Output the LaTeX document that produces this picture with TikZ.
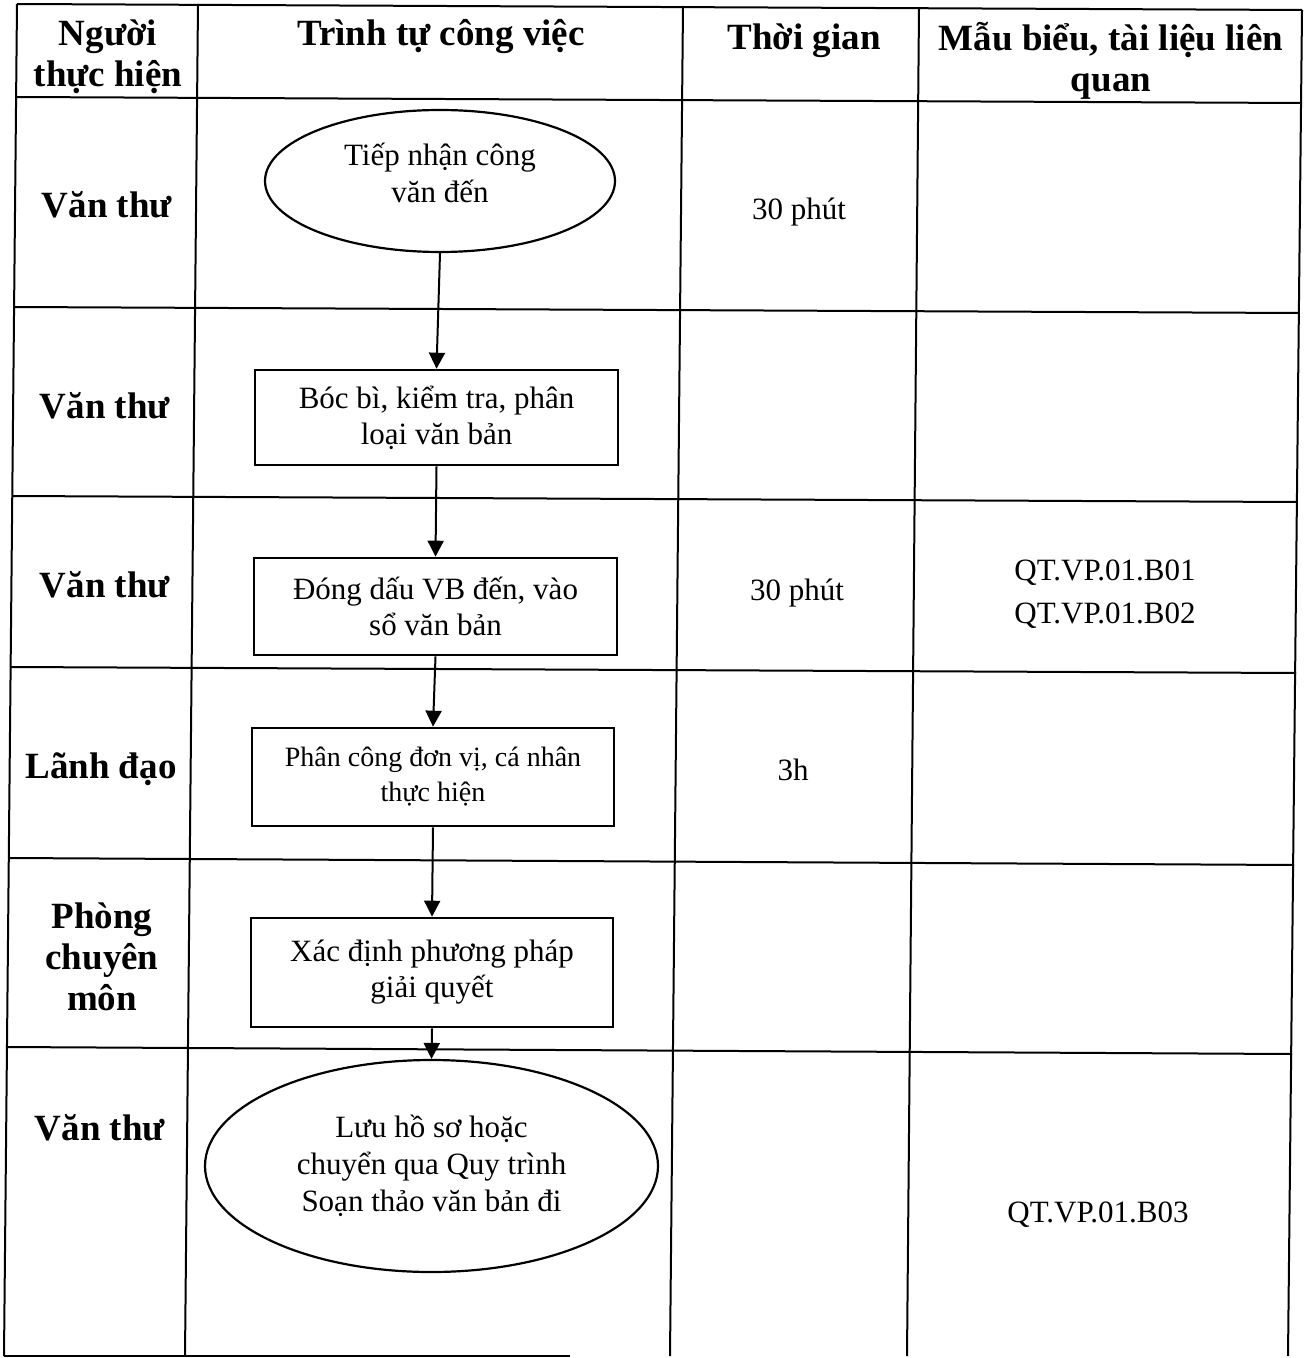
\documentclass[tikz,border=0pt]{standalone}
\usepackage{fontspec}
\setmainfont{Liberation Serif}
\usetikzlibrary{shapes.geometric,arrows.meta}
\begin{document}
\begin{tikzpicture}[x=0.5pt,y=-0.5pt]
\tikzset{
  tableline/.style={line width=1pt},
  lab/.style={font=\fontsize{18.5}{20.5}\selectfont\bfseries, align=center, inner sep=0pt, anchor=base},
  txt/.style={font=\fontsize{15.5}{21.5}\selectfont, align=center, inner sep=0pt, anchor=base},
  stepbox/.style={draw, rectangle, line width=1.3pt, inner sep=0pt, align=center, font=\fontsize{15.5}{18}\selectfont},
  termbox/.style={draw, ellipse, line width=1.1pt, inner sep=0pt, align=center, font=\fontsize{15.5}{18.5}\selectfont},
  flow/.style={line width=1pt, -{Triangle[length=8pt,width=8pt]}}
}
\useasboundingbox (0,0) rectangle (1308,1358);
\fill[white] (0,0) rectangle (1308,1358);
% table grid
\draw[tableline] (17,4) -- (4,1356);
\draw[tableline] (198,4) -- (185,1356);
\draw[tableline] (683,6) -- (670,1356);
\draw[tableline] (919,8) -- (907,1356);
\draw[tableline] (1302,10) -- (1288,1356);
\draw[tableline] (17,4) -- (1302,10);
\draw[tableline] (16,97) -- (1301,103);
\draw[tableline] (14,307) -- (1299,313);
\draw[tableline] (12,496) -- (1297,502);
\draw[tableline] (11,667) -- (1296,673);
\draw[tableline] (9,858) -- (1294,865);
\draw[tableline] (7,1047) -- (1292,1054);
\draw[tableline] (4,1356) -- (570,1356);
% header (multi-line nodes are placed at the baseline of their last line)
\node[lab] (h1) at (108,87) {Người\\thực hiện};
\node[lab] (h2) at (441,46) {Trình tự công việc};
\node[lab] (h3) at (804,50) {Thời gian};
\node[lab] (h4) at (1111,92) {Mẫu biểu, tài liệu liên\\quan};
% row labels
\node[lab] (r1) at (107,218) {Văn thư};
\node[lab] (r2) at (105,418) {Văn thư};
\node[lab] (r3) at (105,597) {Văn thư};
\node[lab] (r4) at (101,778) {Lãnh đạo};
\node[lab] (r5) at (102,1010) {Phòng\\chuyên\\môn};
\node[lab] (r6) at (100,1140) {Văn thư};
% time column
\node[txt] (t1) at (799,220) {30 phút};
\node[txt] (t3) at (797,600) {30 phút};
\node[txt] (t4) at (793,780) {3h};
% documents column
\node[txt] (d3) at (1105,623) {QT.VP.01.B01\\QT.VP.01.B02};
\node[txt] (d6) at (1098,1222) {QT.VP.01.B03};
% flow
\node[termbox, minimum width=175pt, minimum height=71pt, text depth=8pt] (e1) at (440,181) {Tiếp nhận công\\văn đến};
\node[stepbox, minimum width=181.5pt, minimum height=47.5pt] (b2) at (436.5,417.5) {Bóc bì, kiểm tra, phân\\loại văn bản};
\node[stepbox, minimum width=181.5pt, minimum height=48.5pt] (b3) at (435.5,606.5) {Đóng dấu VB đến, vào\\sổ văn bản};
\node[stepbox, minimum width=181pt, minimum height=49pt, font=\fontsize{14}{17.5}\selectfont] (b4) at (433,777) {Phân công đơn vị, cá nhân\\thực hiện};
\node[stepbox, minimum width=181pt, minimum height=54.5pt] (b5) at (432,972.5) {Xác định phương pháp\\giải quyết};
\node[termbox, minimum width=226.5pt, minimum height=106pt] (e2) at (431.5,1166) {Lưu hồ sơ hoặc\\chuyển qua Quy trình\\Soạn thảo văn bản đi};
\draw[flow] (e1.south) -- (b2.north);
\draw[flow] (b2.south) -- (b3.north);
\draw[flow] (b3.south) -- (b4.north);
\draw[flow] (b4.south) -- (b5.north);
\draw[flow] (b5.south) -- (e2.north);
\end{tikzpicture}
\end{document}
